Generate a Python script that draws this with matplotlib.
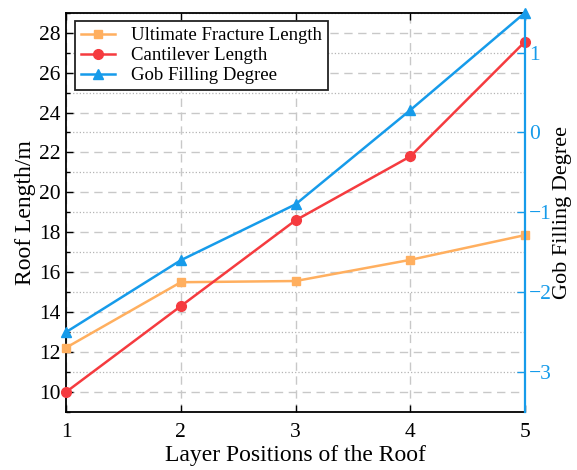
import matplotlib
matplotlib.use("Agg")
import matplotlib.pyplot as plt
from matplotlib.ticker import MultipleLocator

plt.rcParams['font.family'] = ['Liberation Serif', 'DejaVu Serif']
plt.rcParams['mathtext.fontset'] = 'stix'

ORANGE = '#FFAF5F'
RED = '#F53B3F'
BLUE = '#169BEA'

layers = [1, 2, 3, 4, 5]
fracture_length = [12.22, 15.5, 15.56, 16.62, 17.86]
cantilever_length = [10.0, 14.3, 18.6, 21.8, 27.55]
gob_filling = [-2.5, -1.6, -0.9, 0.28, 1.5]

fig = plt.figure(figsize=(5.77, 4.70), dpi=100)
ax = fig.add_axes([0.1144, 0.1234, 0.7955, 0.8496])
ax2 = ax.twinx()

l1, = ax.plot(layers, fracture_length, color=ORANGE, lw=1.8, marker='s',
              ms=6, clip_on=False, zorder=3, label='Ultimate Fracture Length')
l2, = ax.plot(layers, cantilever_length, color=RED, lw=1.8, marker='o',
              ms=7, clip_on=False, zorder=3, label='Cantilever Length')
l3, = ax2.plot(layers, gob_filling, color=BLUE, lw=1.8, marker='^',
               ms=7, clip_on=False, zorder=3, label='Gob Filling Degree')

ax.set_xlim(1, 5)
ax.set_ylim(9, 29)
ax2.set_ylim(-3.5, 1.5)
ax.set_xticks(layers)
ax.yaxis.set_major_locator(MultipleLocator(2))
ax.yaxis.set_minor_locator(MultipleLocator(1))
ax2.yaxis.set_major_locator(MultipleLocator(1))

# dashed grid on major ticks, dotted on the odd minor ones
ax.grid(True, which='major', ls=(0, (6, 4)), color='#c8c8c8', lw=1.0)
ax.grid(True, which='minor', axis='y', ls=':', color='#b4b4b4', lw=0.9)

ax.tick_params(axis='both', which='both', direction='in', labelsize=15.5,
               top=True, width=1.0)
ax.tick_params(axis='y', which='major', length=5, pad=4)
ax.tick_params(axis='y', which='minor', length=3)
ax.tick_params(axis='x', which='major', length=5, pad=8)
ax2.tick_params(axis='y', which='both', direction='in', labelsize=15.5,
                colors=BLUE, length=6, width=1.0, pad=3)

for side in ['left', 'bottom', 'top']:
    ax.spines[side].set_linewidth(1.3)
ax.spines['right'].set_visible(False)
ax2.spines['right'].set_color(BLUE)
ax2.spines['right'].set_linewidth(1.6)
for side in ['left', 'bottom', 'top']:
    ax2.spines[side].set_visible(False)

ax.set_xlabel('Layer Positions of the Roof', fontsize=17, labelpad=2)
ax.set_ylabel('Roof Length/m', fontsize=17, labelpad=2)
ax2.set_ylabel('Gob Filling Degree', fontsize=16, labelpad=1)
ax2.yaxis.label.set_color('black')

leg = ax2.legend(handles=[l1, l2, l3], loc='upper left', fontsize=13.5,
                 frameon=True, fancybox=False, edgecolor='#222222',
                 framealpha=1.0, borderpad=0.3, labelspacing=0.15,
                 handlelength=1.8, handletextpad=0.9, borderaxespad=0,
                 bbox_to_anchor=(0.02, 0.978))
leg.get_frame().set_linewidth(1.3)

fig.savefig('out.png', dpi=100)
